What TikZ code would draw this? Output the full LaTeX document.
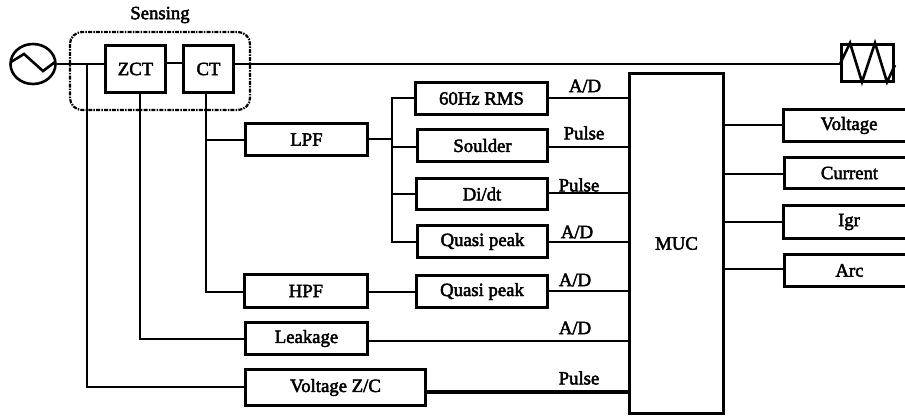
\documentclass[tikz,border=0pt]{standalone}
\usepackage{fontspec}
\usetikzlibrary{shapes.geometric}
\setmainfont[FakeBold=2.5]{Liberation Serif}
\tikzset{
 x=1bp,y=-1bp,
 box/.style={draw,line width=2.6bp,inner sep=0pt,font=\fontsize{18.8}{18.8}\selectfont},
 wire/.style={line width=2.6bp,line join=miter},
 lab/.style={inner sep=0pt,font=\fontsize{18.8}{18.8}\selectfont},
}
\newcommand{\bx}[6]{\node[box,minimum width=#4bp-#2bp-2.6bp,minimum height=#5bp-#3bp-2.6bp,anchor=center] (#1) at ({(#2+#4)/2},{(#3+#5)/2}) {#6};}
\begin{document}
\begin{tikzpicture}
\useasboundingbox (0,0) rectangle (905,419);
\node[draw,ellipse,line width=2.6bp,minimum width=45bp,minimum height=40bp,inner sep=0pt] (src) at (33,64) {};
\bx{zct}{104}{44}{167}{94}{ZCT}
\bx{ct}{182}{44}{235}{94}{CT}
\bx{lpf}{244}{122}{369}{157}{LPF}
\bx{hpf}{243}{273}{369}{309}{HPF}
\bx{leak}{244}{321}{369}{356}{Leakage}
\bx{vzc}{244}{368}{427}{407}{Voltage Z/C}
\bx{rms}{414}{81}{549}{116}{60Hz RMS}
\bx{sol}{416}{128}{549}{163}{Soulder}
\bx{did}{415}{177}{549}{211}{Di/dt}
\bx{qp}{416}{224}{549}{259}{Quasi peak}
\bx{qph}{415}{274}{549}{309}{Quasi peak}
\bx{muc}{628}{72}{725}{415}{MUC}
\bx{volt}{782}{108}{916}{143}{Voltage}
\bx{cur}{783}{156}{916}{190}{Current}
\bx{igr}{782}{204}{916}{240}{Igr}
\bx{arc}{783}{253}{916}{288}{Arc}
\bx{res}{840}{43}{895}{83}{}
\node[lab] (sens) at (160,15) {Sensing};
\draw[line width=2.2bp,dash pattern=on 4bp off 1.2bp on 1.5bp off 1.2bp,rounded corners=12bp] (70,32) rectangle (250,110);
\draw[wire] (11,62) -- (24,54) -- (43,71) -- (55,62);
\draw[wire] (src.east) -- (src.east-|zct.west);
\draw[wire] (zct.east|-0,63) -- (ct.west|-0,63);
\draw[wire] (ct.east|-0,64) -- (res.west|-0,64);
\draw[wire] (840,64) -- (850,43) -- (862,82) -- (875,43) -- (887,82) -- (895,65);
\draw[wire] (87,64) |- (vzc.west|-0,387);
\draw[wire] (zct.south-|140,0) |- (leak.west|-0,339);
\draw[wire] (ct.south-|206,0) |- (hpf.west|-0,292);
\draw[wire] (206,140) -- (lpf.west|-0,140);
\draw[wire] (lpf.east|-0,139) -- (392,139);
\draw[wire] (rms.west|-0,98) -| (392,242) -- (qp.west|-0,242);
\draw[wire] (392,147) -- (sol.west|-0,147);
\draw[wire] (392,194) -- (did.west|-0,194);
\draw[wire] (hpf.east|-0,292) -- (qph.west|-0,292);
\draw[wire] (rms.east|-0,98) -- (muc.west|-0,98);
\draw[wire] (sol.east|-0,147) -- (muc.west|-0,147);
\draw[wire] (did.east|-0,193) -- (muc.west|-0,193);
\draw[wire] (qp.east|-0,242) -- (muc.west|-0,242);
\draw[wire] (qph.east|-0,291) -- (muc.west|-0,291);
\draw[wire] (leak.east|-0,341) -- (muc.west|-0,341);
\draw[wire,line width=3.2bp] (vzc.east|-0,392) -- (muc.west|-0,392);
\draw[wire] (muc.east|-0,125) -- (volt.west|-0,125);
\draw[wire] (muc.east|-0,174) -- (cur.west|-0,174);
\draw[wire] (muc.east|-0,222) -- (igr.west|-0,222);
\draw[wire] (muc.east|-0,269) -- (arc.west|-0,269);
\node[lab] (l1) at (585,86) {A/D};
\node[lab] (l2) at (584,133) {Pulse};
\node[lab] (l3) at (579,185) {Pulse};
\node[lab] (l4) at (577,232) {A/D};
\node[lab] (l5) at (575,280) {A/D};
\node[lab] (l6) at (575,328) {A/D};
\node[lab] (l7) at (579,378) {Pulse};
\end{tikzpicture}
\end{document}
